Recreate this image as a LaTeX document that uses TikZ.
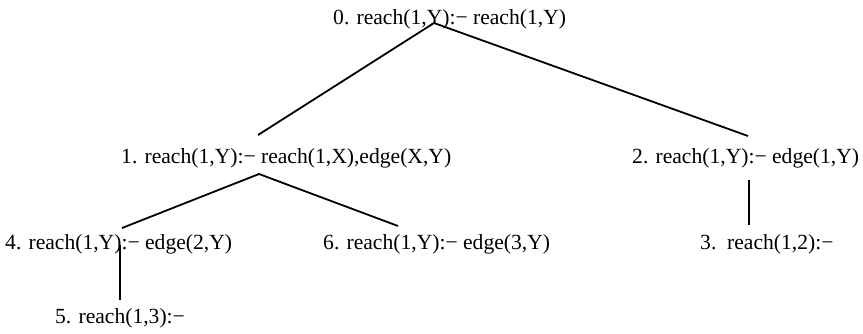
\documentclass[tikz,border=0pt]{standalone}
\usepackage{fontspec}
\setmainfont{Liberation Serif}
\begin{document}
\begin{tikzpicture}[x=1pt,y=-1pt,
  lbl/.style={anchor=base west,inner sep=0pt,font=\fontsize{21.6}{26}\selectfont},
  edge/.style={line width=1.8pt,black}]
\useasboundingbox (0,0) rectangle (863,333);
\node[lbl] (n0) at (333,24) {0. reach(1,Y):− reach(1,Y)};
\node[lbl] (n1) at (121,163) {1. reach(1,Y):− reach(1,X),edge(X,Y)};
\node[lbl] (n2) at (632,163) {2. reach(1,Y):− edge(1,Y)};
\node[lbl] (n4) at (5,249) {4. reach(1,Y):− edge(2,Y)};
\node[lbl] (n6) at (323,249) {6. reach(1,Y):− edge(3,Y)};
\node[lbl] (n3) at (700,249) {3.\ \ reach(1,2):−};
\node[lbl] (n5) at (55,323) {5. reach(1,3):−};
\coordinate (a0) at (434,23);
\coordinate (b1) at (258,135);
\coordinate (b2) at (748,136);
\coordinate (a1) at (259,174);
\coordinate (b4) at (122,228);
\coordinate (b6) at (398,226);
\coordinate (a2) at (749,180);
\coordinate (b3) at (749,225);
\coordinate (a4) at (120,245);
\coordinate (b5) at (120,300);
\draw[edge] (b1) -- (a0) -- (b2);
\draw[edge] (b4) -- (a1) -- (b6);
\draw[edge] (a2) -- (b3);
\draw[edge] (a4) -- (b5);
\end{tikzpicture}
\end{document}
